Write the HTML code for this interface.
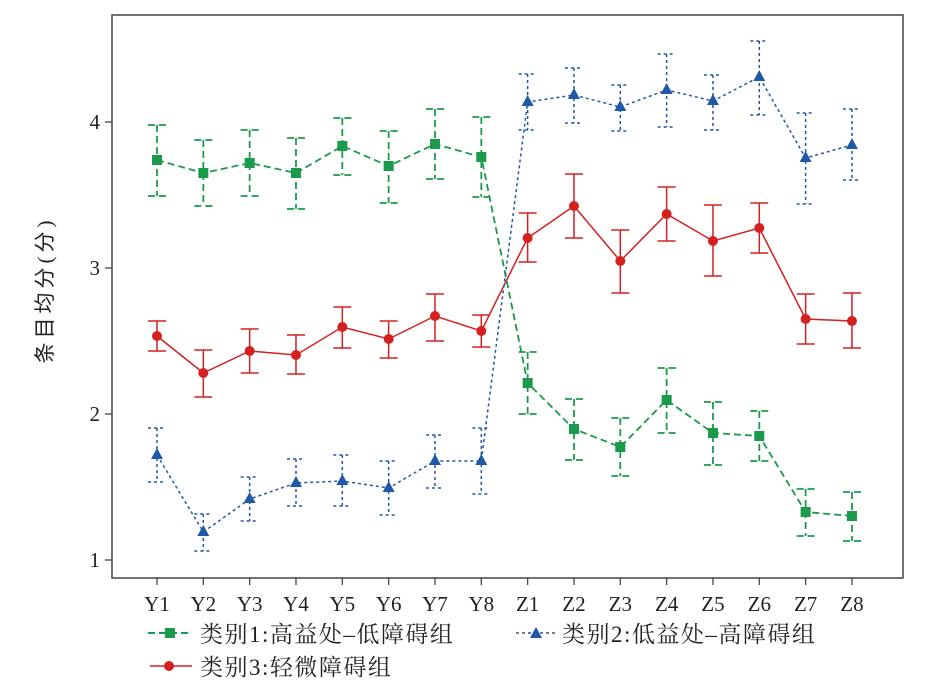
<!DOCTYPE html>
<html><head><meta charset="utf-8"><style>
html,body{margin:0;padding:0;background:#fff;width:925px;height:689px;overflow:hidden}
text{font-family:"Liberation Serif","Noto Serif CJK SC",serif;fill:#222}
.cj{font-family:"Liberation Serif","Noto Sans CJK SC",sans-serif}
</style></head><body>
<svg id="s" width="925" height="689" xmlns="http://www.w3.org/2000/svg">
<rect x="112" y="15" width="791" height="563" fill="none" stroke="#444" stroke-width="1.5"/>
<g stroke="#444" stroke-width="1.3">
<line x1="105" y1="122" x2="112" y2="122"/><line x1="105" y1="268" x2="112" y2="268"/>
<line x1="105" y1="414" x2="112" y2="414"/><line x1="105" y1="560" x2="112" y2="560"/>
</g>
<g font-size="21" text-anchor="end">
<text x="100" y="129">4</text><text x="100" y="275">3</text><text x="100" y="421">2</text><text x="100" y="567">1</text>
</g>
<text class="cj" font-size="21" letter-spacing="4" transform="translate(52,290) rotate(-90)" text-anchor="middle">条目均分(分)</text>
<g id="ticks"></g>
<g id="series"></g>
<g class="cj" font-size="23" letter-spacing="1.5">
<line x1="148" y1="633" x2="192" y2="633" stroke="#1a9a4a" stroke-width="2" stroke-dasharray="7,4"/>
<rect x="165" y="628" width="10" height="10" fill="#1a9a4a"/>
<text x="200" y="642">类别1:高益处–低障碍组</text>
<line x1="516" y1="633" x2="556" y2="633" stroke="#2058a8" stroke-width="1.5" stroke-dasharray="3,3"/>
<polygon points="536,627 530,638 542,638" fill="#2058a8"/>
<text x="562" y="642">类别2:低益处–高障碍组</text>
<line x1="150" y1="666" x2="192" y2="666" stroke="#d42020" stroke-width="1.5"/>
<circle cx="169" cy="666" r="5" fill="#d42020"/>
<text x="200" y="675">类别3:轻微障碍组</text>
</g>
</svg>
<script>
var labs=["Y1","Y2","Y3","Y4","Y5","Y6","Y7","Y8","Z1","Z2","Z3","Z4","Z5","Z6","Z7","Z8"];
var X=i=>157+i*46.33;
var t="";
labs.forEach((l,i)=>{t+=`<line x1="${X(i)}" y1="578" x2="${X(i)}" y2="585" stroke="#444" stroke-width="1.3"/><text x="${X(i)}" y="611" font-size="21" text-anchor="middle">${l}</text>`});
document.getElementById("ticks").innerHTML=t;
var G=[[160,125,196],[173,140,206],[163,130,196],[173,138,209],[146,118,175],[166,131,203],[144,109,179],[157,117,197],[383,352,414],[429,399,460],[447,418,476],[400,368,433],[433,402,465],[436,411,461],[512,489,536],[516,492,541]];
var R=[[336,321,351],[373,350,397],[351,329,373],[355,335,374],[327,307,348],[339,321,358],[316,294,341],[331,315,347],[238,213,262],[206,174,238],[261,230,293],[214,187,241],[241,205,276],[228,203,253],[319,294,344],[321,293,348]];
var B=[[455,428,482],[532,514,551],[499,477,521],[483,459,506],[481,455,506],[488,461,515],[461,435,488],[461,428,494],[102,74,130],[95,68,123],[107,85,131],[90,54,127],[101,75,130],[77,41,115],[158,113,204],[145,109,180]];
function ser(d,c,dash,w,mk){
 var s="",p=d.map((v,i)=>X(i)+","+v[0]).join(" ");
 d.forEach((v,i)=>{var x=X(i);s+=`<path d="M${x-9},${v[1]}H${x+9}M${x},${v[1]}V${v[2]}M${x-9},${v[2]}H${x+9}" stroke="${c}" stroke-width="${w}" fill="none" stroke-dasharray="${dash}"/>`});
 s+=`<polyline points="${p}" fill="none" stroke="${c}" stroke-width="${w}" stroke-dasharray="${dash}"/>`;
 d.forEach((v,i)=>{var x=X(i),y=v[0];
  if(mk=="s")s+=`<rect x="${x-5}" y="${y-5}" width="10" height="10" fill="${c}"/>`;
  else if(mk=="c")s+=`<circle cx="${x}" cy="${y}" r="5" fill="${c}"/>`;
  else s+=`<polygon points="${x},${y-7} ${x-6},${y+4} ${x+6},${y+4}" fill="${c}"/>`;});
 return s;}
document.getElementById("series").innerHTML=ser(R,"#d42020","none",1.5,"c")+ser(G,"#1a9a4a","7,4",1.8,"s")+ser(B,"#2058a8","3,3",1.5,"t");
</script>
</body></html>
